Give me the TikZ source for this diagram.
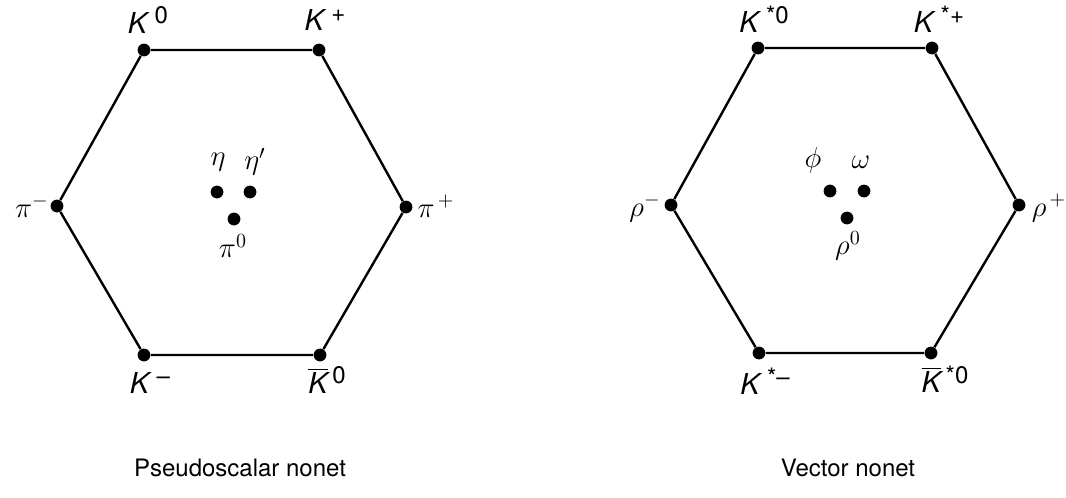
\documentclass[tikz,border=0pt]{standalone}
\usepackage{fontspec}
\setmainfont{TeX Gyre Heros}
\usepackage{tikz}
\usetikzlibrary{positioning}
\tikzset{
	punto/.style={
		circle,
		fill=black,
		inner sep=0pt,
		minimum size=6.4pt
	},
	etiqueta/.style={
		inner sep=1pt,
		font=\Large
	},
	lado/.style={
		line width=1.2pt,
		black
	},
	titulo/.style={
		font=\large
	}
}
\newcommand{\kaon}{\textit{K}}
\newcommand{\kbar}{$\overline{\mbox{\itshape K}}$}
\newcommand{\supra}[1]{\,\raisebox{0.6ex}{\large #1}}

\begin{document}
\begin{tikzpicture}[x=0.5pt, y=-0.5pt]
		\useasboundingbox (0,0) rectangle (1066,498);
		% pseudoscalar nonet
		\node[punto] (k0) at (144,50) {};
		\node[punto] (kp) at (319,50) {};
		\node[punto] (pip) at (406,207) {};
		\node[punto] (kb0) at (320,355) {};
		\node[punto] (km) at (144,355) {};
		\node[punto] (pim) at (57,206) {};
		\draw[lado] (k0) -- (kp) -- (pip) -- (kb0) -- (km) -- (pim) -- (k0);
		\node[punto] (eta) at (217,192) {};
		\node[punto] (etap) at (250,192) {};
		\node[punto] (pi0) at (234,219) {};
		\node[etiqueta] (lk0) at (148,20) {\kaon\supra{0}};
		\node[etiqueta] (lkp) at (325,20) {\kaon\supra{+}};
		\node[etiqueta] (lpip) at (436,206) {$\pi^{\,+}$};
		\node[etiqueta] (lpim) at (32,206) {$\pi^{-}$};
		\node[etiqueta] (lkm) at (150,383) {\kaon\supra{--}};
		\node[etiqueta] (lkb0) at (327,380) {\kbar\supra{0}};
		\node[etiqueta] (leta) at (218,162) {$\eta$};
		\node[etiqueta] (letap) at (255,162) {$\eta'$};
		\node[etiqueta] (lpi0) at (233,246) {$\pi^{0}$};
		\node[titulo] (tps) at (240,468) {Pseudoscalar nonet};
		% vector nonet
		\node[punto] (ks0) at (758,48) {};
		\node[punto] (ksp) at (932,48) {};
		\node[punto] (rhop) at (1019,205) {};
		\node[punto] (kbs0) at (931,353) {};
		\node[punto] (ksm) at (759,353) {};
		\node[punto] (rhom) at (671,205) {};
		\draw[lado] (ks0) -- (ksp) -- (rhop) -- (kbs0) -- (ksm) -- (rhom) -- (ks0);
		\node[punto] (phi) at (830,191) {};
		\node[punto] (omega) at (864,191) {};
		\node[punto] (rho0) at (847,218) {};
		\node[etiqueta] (lks0) at (764,19) {\kaon\supra{*0}};
		\node[etiqueta] (lksp) at (939,19) {\kaon\supra{*+}};
		\node[etiqueta] (lrhop) at (1049,208) {$\rho^{\,+}$};
		\node[etiqueta] (lrhom) at (645,208) {$\rho^{-}$};
		\node[etiqueta] (lksm) at (765,381) {\kaon\supra{*--}};
		\node[etiqueta] (lkbs0) at (945,379) {\kbar\supra{*0}};
		\node[etiqueta] (lphi) at (813,160) {$\phi$};
		\node[etiqueta] (lomega) at (861,162) {$\omega$};
		\node[etiqueta] (lrho0) at (848,246) {$\rho^{0}$};
		\node[titulo] (tv) at (848,468) {Vector nonet};
	\end{tikzpicture}
\end{document}
